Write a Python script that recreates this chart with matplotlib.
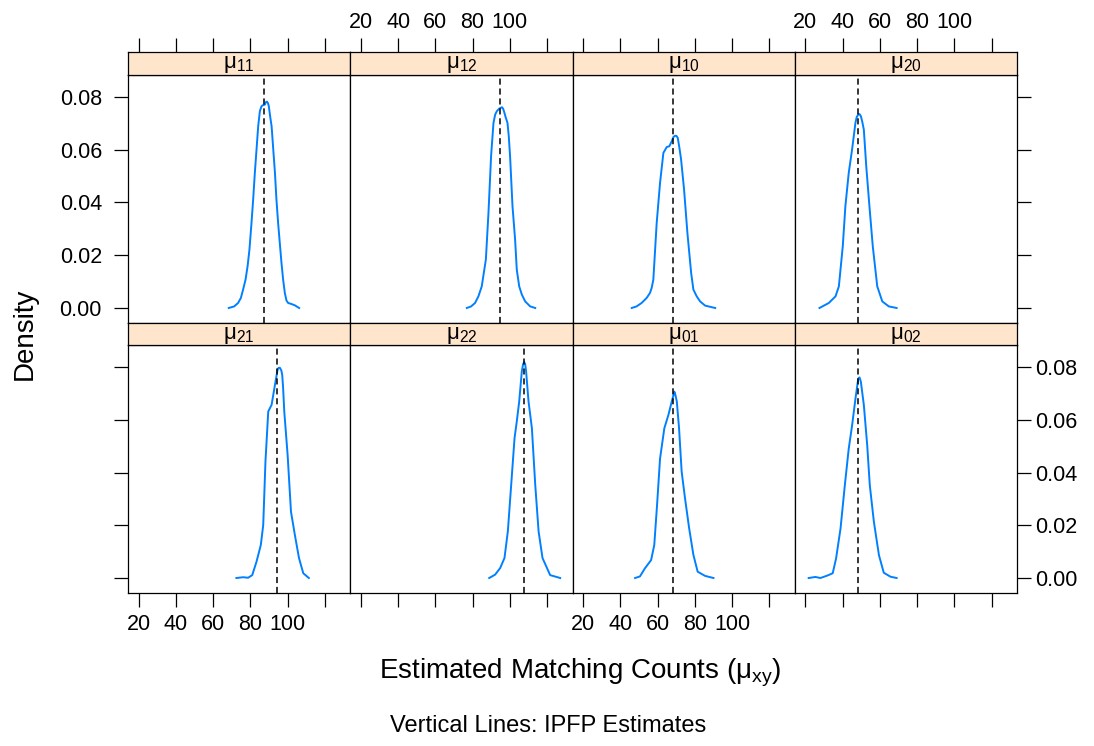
import matplotlib.pyplot as plt

plt.rcParams["font.family"] = ["Liberation Sans", "DejaVu Sans"]
plt.rcParams["mathtext.default"] = "regular"

# panel order: top row left->right, then bottom row
panel_names = ["11", "12", "10", "20", "21", "22", "01", "02"]
ipfp = [87.5, 94.8, 68.1, 48.4, 94.4, 107.7, 68.1, 48.4]

x_mu11 = [68.4, 71.3, 73.4, 74.9, 76.1, 77.4, 78.5, 79.5, 80.6, 81.5, 82.4, 83.3, 84.2,
          85.1, 86.0, 86.9, 87.8, 88.3, 88.9, 89.4, 89.9, 90.6, 91.4, 92.3, 93.2, 94.0,
          94.9, 95.8, 96.7, 97.6, 98.5, 99.4, 100.3, 102.1, 103.9, 106.2]
d_mu11 = [0, 0.0006, 0.0019, 0.0038, 0.0070, 0.0107, 0.0158, 0.0221, 0.0322, 0.0411,
          0.0512, 0.0600, 0.0689, 0.0746, 0.0765, 0.0769, 0.0771, 0.0780, 0.0782, 0.0777,
          0.0765, 0.0727, 0.0689, 0.0600, 0.0512, 0.0411, 0.0322, 0.0246, 0.0171, 0.0107,
          0.0057, 0.0028, 0.0019, 0.0015, 0.0010, 0]

x_mu12 = [76.9, 79.2, 81.3, 83.1, 84.9, 86.0, 87.1, 88.5, 89.9, 91.2, 92.1, 93.0, 94.2,
          95.7, 96.4, 97.1, 97.8, 98.7, 99.4, 100.1, 101.4, 102.8, 103.7, 105.0, 106.4,
          108.2, 110.9, 113.6]
d_mu12 = [0, 0.0006, 0.0019, 0.0044, 0.0082, 0.0133, 0.0183, 0.0360, 0.0575, 0.0702,
          0.0733, 0.0746, 0.0755, 0.0761, 0.0755, 0.0739, 0.0721, 0.0702, 0.0651, 0.0575,
          0.0386, 0.0259, 0.0145, 0.0082, 0.0051, 0.0025, 0.0006, 0]

x_mu10 = [46.1, 48.7, 51.4, 54.1, 55.9, 56.8, 57.7, 59.5, 61.3, 63.1, 64.9, 66.3, 67.6,
          68.5, 69.4, 70.1, 70.8, 71.7, 72.6, 74.2, 76.0, 78.0, 79.2, 81.0, 82.8, 85.5,
          90.9]
d_mu10 = [0, 0.0006, 0.0019, 0.0038, 0.0057, 0.0076, 0.0107, 0.0322, 0.0474, 0.0588,
          0.0610, 0.0613, 0.0632, 0.0648, 0.0653, 0.0652, 0.0645, 0.0607, 0.0563, 0.0449,
          0.0284, 0.0133, 0.0070, 0.0044, 0.0025, 0.0009, 0]

x_mu20 = [27.6, 32.6, 36.2, 38.0, 40.1, 41.5, 43.3, 45.1, 46.9, 47.6, 48.4, 49.1, 49.8,
          50.5, 51.4, 52.7, 54.4, 56.2, 58.6, 61.3, 64.8, 69.0]
d_mu20 = [0, 0.0019, 0.0044, 0.0082, 0.0234, 0.0386, 0.0512, 0.0601, 0.0702, 0.0724,
          0.0733, 0.0735, 0.0727, 0.0708, 0.0676, 0.0537, 0.0386, 0.0234, 0.0082, 0.0025,
          0.0006, 0]

x_mu21 = [72.5, 76.1, 78.8, 81.0, 83.3, 85.6, 86.9, 88.1, 89.6, 91.4, 93.2, 94.6, 95.1,
          95.8, 96.6, 97.1, 97.6, 98.2, 100.0, 101.8, 103.9, 106.1, 108.4, 111.4]
d_mu21 = [0, 0.0003, 0.0001, 0.0011, 0.0062, 0.0125, 0.0201, 0.0442, 0.0632, 0.0657,
          0.0733, 0.0790, 0.0797, 0.0798, 0.0788, 0.0771, 0.0719, 0.0632, 0.0467, 0.0252,
          0.0163, 0.0076, 0.0018, 0]

x_mu22 = [88.9, 92.1, 94.8, 97.1, 98.9, 100.7, 102.5, 103.7, 105.0, 106.4, 107.1, 107.7,
          108.2, 108.7, 110.0, 111.8, 113.6, 115.4, 117.5, 121.6, 127.0]
d_mu22 = [0, 0.0013, 0.0038, 0.0076, 0.0177, 0.0354, 0.0531, 0.0594, 0.0670, 0.0784,
          0.0812, 0.0819, 0.0812, 0.0784, 0.0670, 0.0569, 0.0354, 0.0177, 0.0076, 0.0011, 0]

x_mu01 = [47.9, 50.5, 53.2, 56.5, 58.2, 59.7, 61.3, 63.6, 65.8, 67.6, 68.5, 69.0, 69.5,
          70.3, 71.5, 72.9, 74.7, 76.9, 79.2, 81.5, 85.5, 90.0]
d_mu01 = [0, 0.0006, 0.0037, 0.0068, 0.0125, 0.0277, 0.0453, 0.0568, 0.0619, 0.0670,
          0.0694, 0.0707, 0.0696, 0.0670, 0.0569, 0.0404, 0.0303, 0.0190, 0.0088, 0.0024,
          0.0008, 0]

x_mu02 = [21.8, 25.4, 28.1, 31.7, 34.7, 36.5, 38.9, 41.2, 43.3, 45.1, 46.9, 48.4, 49.1,
          49.8, 51.4, 53.2, 54.6, 56.8, 59.5, 62.1, 65.7, 69.0]
d_mu02 = [0, 0.0004, 0, 0.0009, 0.0018, 0.0074, 0.0188, 0.0352, 0.0491, 0.0579, 0.0680,
          0.0757, 0.0761, 0.0745, 0.0657, 0.0505, 0.0352, 0.0213, 0.0087, 0.0020, 0.0005, 0]

curves = [(x_mu11, d_mu11), (x_mu12, d_mu12), (x_mu10, d_mu10), (x_mu20, d_mu20),
          (x_mu21, d_mu21), (x_mu22, d_mu22), (x_mu01, d_mu01), (x_mu02, d_mu02)]

x_ticks = [20, 40, 60, 80, 100, 120]
x_ticklabels = ["20", "40", "60", "80", "100", ""]
y_ticks = [0.00, 0.02, 0.04, 0.06, 0.08]
y_ticklabels = ["0.00", "0.02", "0.04", "0.06", "0.08"]

W, H = 1094, 746
fig = plt.figure(figsize=(W / 100, H / 100), dpi=100)


def box(x0, y0, x1, y1):
    return [x0 / W, 1 - y1 / H, (x1 - x0) / W, (y1 - y0) / H]


col_edges = [128, 350.2, 572.5, 794.7, 1017]
rows = [(52, 75, 323.3), (323.3, 345.3, 593.3)]  # strip top, panel top, panel bottom
TICK = 9.8
FS = 15.5

for i, (xs, ds) in enumerate(curves):
    r, c = divmod(i, 4)
    ax = fig.add_axes(box(col_edges[c], rows[r][1], col_edges[c + 1], rows[r][2]))
    st = fig.add_axes(box(col_edges[c], rows[r][0], col_edges[c + 1], rows[r][1]))

    ax.plot(xs, ds, color="#0080ff", lw=1.4, zorder=2, solid_joinstyle="round")
    ax.axvline(ipfp[i], color="black", lw=1.1, ls=(0, (4, 2.5)), zorder=3)
    ax.set_xlim(14.3, 133.6)
    ax.set_ylim(-0.0058, 0.0883)

    for a in (ax, st):
        for s in a.spines.values():
            s.set_linewidth(0.9)

    # x axis
    ax.set_xticks(x_ticks)
    if r == 1:
        ax.tick_params(axis="x", bottom=True, top=False, direction="out", length=TICK,
                       width=0.9, pad=5, labelsize=FS, labelbottom=(c in (0, 2)))
        ax.set_xticklabels(x_ticklabels)
    else:
        ax.tick_params(axis="x", bottom=False, top=False, labelbottom=False)

    # y axis
    ax.set_yticks(y_ticks)
    ax.set_yticklabels(y_ticklabels)
    ax.tick_params(axis="y", left=(c == 0), right=(c == 3), direction="out",
                   length=TICK, width=0.9, labelsize=FS,
                   labelleft=(c == 0 and r == 0), labelright=(c == 3 and r == 1))
    if c == 0:
        ax.tick_params(axis="y", pad=9)
    else:
        ax.tick_params(axis="y", pad=3)

    # strip
    st.set_facecolor("#ffe5cc")
    st.set_xlim(14.3, 133.6)
    st.set_yticks([])
    st.set_xticks(x_ticks)
    st.set_xticklabels(x_ticklabels)
    if r == 0:
        st.tick_params(axis="x", top=True, bottom=False, direction="out", length=TICK,
                       width=0.9, pad=4, labelsize=FS, labeltop=(c in (1, 3)),
                       labelbottom=False)
    else:
        st.tick_params(axis="x", top=False, bottom=False, labeltop=False, labelbottom=False)
    st.text(0.5, 0.45, r"$\mu_{%s}$" % panel_names[i], transform=st.transAxes,
            ha="center", va="center", fontsize=16)

fig.text(580 / W, 1 - 673 / H, r"Estimated Matching Counts ($\mu_{xy}$)",
         ha="center", va="center", fontsize=20)
fig.text(548 / W, 1 - 726 / H, "Vertical Lines: IPFP Estimates",
         ha="center", va="center", fontsize=17)
fig.text(25 / W, 1 - 334 / H, "Density", rotation=90,
         ha="center", va="center", fontsize=20)

fig.savefig("out.png", dpi=100)
